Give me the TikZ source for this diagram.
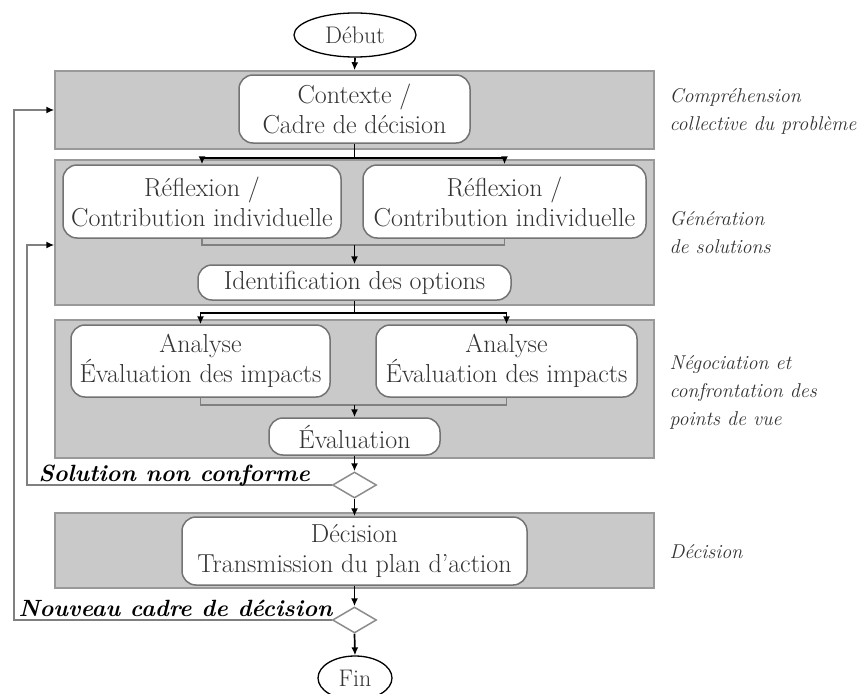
\documentclass[tikz,border=0pt]{standalone}
\usetikzlibrary{arrows.meta,shapes.geometric}
\begin{document}
\begin{tikzpicture}[x=1pt,y=-1pt,
  band/.style={draw=black!40, fill=black!21, line width=1.5pt, minimum width=599pt, inner sep=0pt},
  stepbox/.style={draw=black!55, fill=white, rounded corners=14pt, line width=1.5pt, align=center, inner sep=0pt, text=black!80, font=\fontsize{26}{30}\selectfont},
  terminal/.style={ellipse, draw=black, line width=1.3pt, inner sep=0pt, text=black!80, font=\fontsize{24}{28}\selectfont},
  choice/.style={diamond, draw=black!45, fill=white, line width=1.5pt, minimum width=44pt, minimum height=26pt, inner sep=0pt},
  flow/.style={line width=1.7pt, -{Latex[length=8pt,width=7pt]}},
  link/.style={line width=1.7pt},
  mergebar/.style={draw=black!50, line width=1.6pt},
  loopback/.style={draw=black!50, line width=1.5pt, -{Latex[length=8pt,width=7pt,color=black]}},
  phase/.style={anchor=west, align=left, text=black!80, font=\fontsize{20}{28}\selectfont\itshape},
  verdict/.style={anchor=base west, font=\fontsize{23.5}{26}\selectfont\bfseries\itshape}
]
\useasboundingbox (0,0) rectangle (861,693);

% phase bands
\node[band, minimum height=78pt]  (b1) at (354.5,110)   {};
\node[band, minimum height=145pt] (b2) at (354.5,232.5) {};
\node[band, minimum height=138pt] (b3) at (354.5,389)   {};
\node[band, minimum height=75pt]  (b4) at (354.5,550.5) {};

% start / end
\node[terminal, minimum width=122pt, minimum height=44pt] (debut) at (355,35) {Début};
\node[terminal, minimum width=74pt, minimum height=44pt] (fin) at (355,678) {Fin};

% activities
\node[stepbox, minimum width=231pt, minimum height=68pt] (ctx) at (354.5,109) {Contexte /\\Cadre de décision};
\node[stepbox, minimum width=278pt, minimum height=73pt] (r1) at (202,201.5) {Réflexion /\\Contribution individuelle};
\node[stepbox, minimum width=283pt, minimum height=73pt] (r2) at (504.5,201.5) {Réflexion /\\Contribution individuelle};
\node[stepbox, minimum width=313pt, minimum height=35pt] (ident) at (354.5,282.5) {Identification des options};
\node[stepbox, minimum width=259pt, minimum height=72pt] (a1) at (200.5,361) {Analyse\\Évaluation des impacts};
\node[stepbox, minimum width=261pt, minimum height=72pt] (a2) at (506.5,361) {Analyse\\Évaluation des impacts};
\node[stepbox, minimum width=171pt, minimum height=37pt] (eval) at (354.5,436.5) {Évaluation};
\node[stepbox, minimum width=345pt, minimum height=68pt] (dec) at (354.5,551) {Décision\\Transmission du plan d’action};

% decisions
\node[choice] (d1) at (354.5,485) {};
\node[choice] (d2) at (354.5,620) {};

% split and join points
\coordinate (s1) at (354.5,158);
\coordinate (j1) at (354.5,245);
\coordinate (s2) at (354.5,313);
\coordinate (j2) at (354.5,405);
\coordinate (l1) at (27,245);
\coordinate (l2) at (14,110);

% main flow
\draw[flow] (debut.south) -- (b1.north);
\draw[link] (ctx.south) -- (s1);
\draw[flow] (s1) -| (r1.north);
\draw[flow] (s1) -| (r2.north);
\draw[mergebar] (r1.south) |- (j1) -| (r2.south);
\draw[flow] (j1) -- (ident.north);
\draw[link] (ident.south) -- (s2);
\draw[flow] (s2) -| (a1.north);
\draw[flow] (s2) -| (a2.north);
\draw[mergebar] (a1.south) |- (j2) -| (a2.south);
\draw[flow] (j2) -- (eval.north);
\draw[flow] (eval.south) -- (d1.north);
\draw[flow] (d1.south) -- (dec.north);
\draw[flow] (dec.south) -- (d2.north);
\draw[flow] (d2.south) -- (fin.north);

% feedback loops
\draw[loopback] (d1.west) -| (l1) -- (l1 -| b2.west);
\draw[loopback] (d2.west) -| (l2) -- (b1.west);
\node[verdict] (v1) at (35,481) {Solution non conforme};
\node[verdict] (v2) at (15,616) {Nouveau cadre de décision};

% phase names
\node[phase] (p1) at (666,111) {Compréhension\\collective du problème};
\node[phase] (p2) at (666,233) {Génération\\de solutions};
\node[phase] (p3) at (666,392) {Négociation et\\confrontation des\\points de vue};
\node[phase] (p4) at (666,552) {Décision};
\end{tikzpicture}
\end{document}
